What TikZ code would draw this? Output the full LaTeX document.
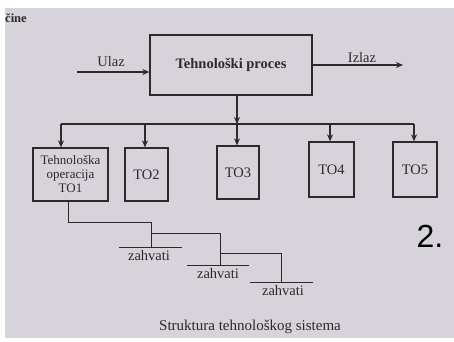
\documentclass[tikz,border=0pt]{standalone}
\usepackage{fontspec}
\setmainfont{Liberation Serif}
\newfontfamily\handfont{Liberation Sans}
\usetikzlibrary{arrows.meta}
\definecolor{paper}{RGB}{214,211,218}
\definecolor{ink}{RGB}{45,42,45}
\tikzset{
  x=1pt, y=-1pt,
  line/.style={draw=ink, line width=1.2pt},
  arr/.style={line, -{Stealth[length=7pt,width=6pt]}},
  box/.style={draw=ink, line width=1.3pt, inner sep=0pt, align=center, text=ink, font=\fontsize{14.5}{14.5}\selectfont},
  lbl/.style={text=ink, inner sep=0pt, font=\fontsize{14.5}{14.5}\selectfont},
}
\begin{document}
\begin{tikzpicture}
\useasboundingbox (0,0) rectangle (454,341);
\fill[white] (0,0) rectangle (454,341);
\fill[paper] (5,8) rectangle (454,338);

\node[lbl, anchor=west, font=\bfseries\fontsize{12.5}{12.5}\selectfont] (cine) at (5,18) {čine};

% main process
\node[box, minimum width=162pt, minimum height=60pt, font=\bfseries\fontsize{14.5}{14.5}\selectfont] (main) at (231,65) {Tehnološki proces};
\coordinate (uin) at (77,72);
\draw[arr] (uin) -- (uin -| main.west);
\node[lbl] (ulaz) at (111,62) {Ulaz};
\coordinate (izl) at (403,65);
\draw[arr] (izl -| main.east) -- (izl);
\node[lbl] (izlaz) at (362,58) {Izlaz};

% operations
\node[box, minimum width=75pt, minimum height=53pt, font=\fontsize{13}{14}\selectfont] (to1) at (70.5,174.5) {Tehnološka\\operacija\\TO1};
\node[box, minimum width=43pt, minimum height=53pt] (to2) at (146.5,174.5) {TO2};
\node[box, minimum width=42pt, minimum height=53pt] (to3) at (238,172.5) {TO3};
\node[box, minimum width=45pt, minimum height=55pt] (to4) at (331.5,169.5) {TO4};
\node[box, minimum width=44pt, minimum height=55pt] (to5) at (415,169.5) {TO5};

% bus
\coordinate (b1) at (61,124);
\coordinate (b2) at (145,124);
\coordinate (b3) at (237,124);
\coordinate (b4) at (330,124);
\coordinate (b5) at (414,124);
\draw[line] (b1) -- (b5);
\draw[arr] (b3 |- main.south) -- (b3);
\draw[arr] (b1) -- (b1 |- to1.north);
\draw[arr] (b2) -- (b2 |- to2.north);
\draw[arr] (b3) -- (b3 |- to3.north);
\draw[arr] (b4) -- (b4 |- to4.north);
\draw[arr] (b5) -- (b5 |- to5.north);

% zahvati
\coordinate (s0) at (68,222);
\coordinate (s1) at (151,222);
\coordinate (g1) at (151,247);
\coordinate (j1) at (151,233);
\coordinate (s2) at (220,233);
\coordinate (g2) at (220,265);
\coordinate (j2) at (220,253);
\coordinate (s3) at (281,253);
\coordinate (g3) at (281,282);
\draw[line, line width=1pt] (s0 |- to1.south) -- (s0) -- (s1) -- (g1);
\draw[line, line width=1pt] (j1) -- (s2) -- (g2);
\draw[line, line width=1pt] (j2) -- (s3) -- (g3);
\coordinate (h1a) at (119,247); \coordinate (h1b) at (182,247);
\coordinate (h2a) at (187,265); \coordinate (h2b) at (249,265);
\coordinate (h3a) at (250,282); \coordinate (h3b) at (313,282);
\draw[line, line width=1pt] (h1a) -- (h1b);
\draw[line, line width=1pt] (h2a) -- (h2b);
\draw[line, line width=1pt] (h3a) -- (h3b);
\node[lbl] (z1) at (149,256) {zahvati};
\node[lbl] (z2) at (218,274) {zahvati};
\node[lbl] (z3) at (283,291) {zahvati};

\node[lbl, font=\fontsize{15}{15}\selectfont] (cap) at (250,327) {Struktura tehnološkog sistema};
\node[lbl, text=black, font=\handfont\fontsize{32}{32}\selectfont] (two) at (430,236) {2.};
\end{tikzpicture}
\end{document}
